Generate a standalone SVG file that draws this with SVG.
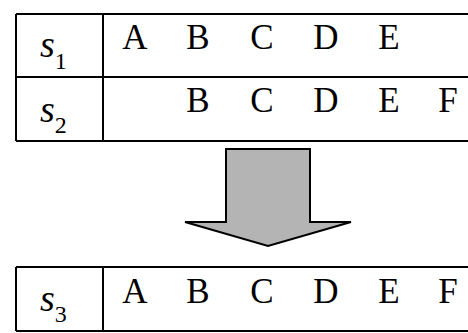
<svg xmlns="http://www.w3.org/2000/svg" width="468" height="333" viewBox="0 0 468 333">
<style>
.ln{stroke:#000;stroke-width:2;fill:none}
</style>
<rect width="468" height="333" fill="#fff"/>
<g id="table-top">
<path class="ln" d="M16,14 H468 M16,77 H468 M16,141 H468 M16,14 V141 M103,14 V141"/>
</g>
<g id="row-s1" font-family="Liberation Serif" fill="#000">
<text x="40" y="57" font-size="38" font-style="italic">s<tspan font-size="24" font-style="normal" dy="12">1</tspan></text>
<text x="135" y="49" font-size="35" text-anchor="middle">A</text>
<text x="198" y="49" font-size="35" text-anchor="middle">B</text>
<text x="262" y="49" font-size="35" text-anchor="middle">C</text>
<text x="326" y="49" font-size="35" text-anchor="middle">D</text>
<text x="389" y="49" font-size="35" text-anchor="middle">E</text>
</g>
<g id="row-s2" font-family="Liberation Serif" fill="#000">
<text x="40" y="122" font-size="38" font-style="italic">s<tspan font-size="24" font-style="normal" dy="11">2</tspan></text>
<text x="198" y="112" font-size="35" text-anchor="middle">B</text>
<text x="262" y="112" font-size="35" text-anchor="middle">C</text>
<text x="326" y="112" font-size="35" text-anchor="middle">D</text>
<text x="389" y="112" font-size="35" text-anchor="middle">E</text>
<text x="448" y="112" font-size="35" text-anchor="middle">F</text>
</g>
<g id="arrow">
<path d="M226,149 H310 V222 H351 L268,246 L185,222 H226 Z" fill="#b4b4b4" stroke="#000" stroke-width="2" stroke-linejoin="miter"/>
</g>
<g id="table-bottom">
<path class="ln" d="M16,267 H468 M16,331 H468 M16,267 V331 M103,267 V331"/>
</g>
<g id="row-s3" font-family="Liberation Serif" fill="#000">
<text x="40" y="311" font-size="38" font-style="italic">s<tspan font-size="24" font-style="normal" dy="11">3</tspan></text>
<text x="135" y="303" font-size="35" text-anchor="middle">A</text>
<text x="198" y="303" font-size="35" text-anchor="middle">B</text>
<text x="262" y="303" font-size="35" text-anchor="middle">C</text>
<text x="326" y="303" font-size="35" text-anchor="middle">D</text>
<text x="389" y="303" font-size="35" text-anchor="middle">E</text>
<text x="448" y="303" font-size="35" text-anchor="middle">F</text>
</g>
</svg>
